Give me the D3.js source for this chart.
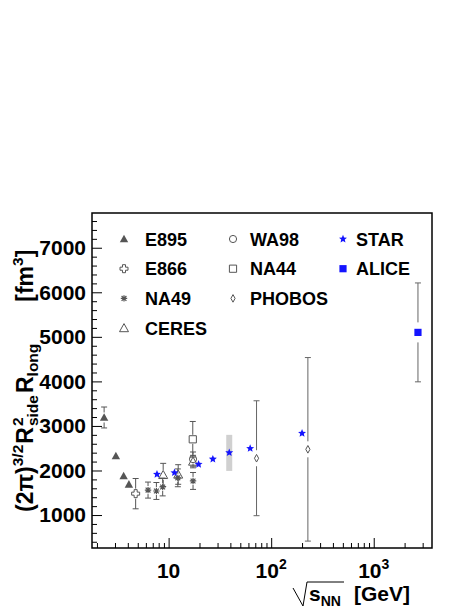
<!DOCTYPE html>
<html>
<head>
<meta charset="utf-8">
<script src="https://cdn.jsdelivr.net/npm/d3@7/dist/d3.min.js"></script>
<style>
  body { margin: 0; background: #fff; }
  text { font-family: 'Liberation Sans', Arial, Helvetica, sans-serif; font-weight: bold; fill: #000; }
</style>
</head>
<body>
<div id="chart"></div>
<script>
// values
var e895X = [2.35, 3.06, 3.64, 4.1]
var e895Y = [3190, 2325, 1880, 1690]
var e895Err = [235, 0, 0, 0]

var e866X = [4.77]
var e866Y = [1480]
var e866Err = [340]

var na49X = [6.3, 7.6, 8.75, 12.3, 17.3]
var na49Y = [1560, 1540, 1630, 1835, 1765]
var na49Err = [180, 190, 200, 200, 190]

var ceresX = [8.85, 12.4, 17.3]
var ceresY = [1900, 1910, 2200]
var ceresErr = [260, 220, 140]

var wa98X = [17.3]
var wa98Y = [2255]
var wa98Err = [160]

var na44X = [17.2]
var na44Y = [2700]
var na44Err = [400]

var phobosX = [72, 228]
var phobosY = [2275, 2475]
var phobosErr = [1290, 2060]

var starX = [7.7, 11.4, 19.6, 27, 39, 62.4, 200]
var starY = [1915, 1950, 2140, 2255, 2400, 2495, 2835]
var starSysX = [39]
var starSysLo = [1990]
var starSysHi = [2800]

var aliceX = [2700]
var aliceY = [5100]
var aliceErr = [1110]

var yTicks = [1000, 2000, 3000, 4000, 5000, 6000, 7000]
var xTicks = [10, 100, 1000]

var width = 471
var height = 609
var padLeft = 92, padRight = 432, padTop = 213, padBottom = 548
var gray = '#555'
var blue = '#1414ff'

var x = d3.scaleLog().domain([1.79, 3700]).range([padLeft, padRight])
var y = d3.scaleLinear().domain([260, 7780]).range([padBottom, padTop])

var svg = d3.select('#chart').append('svg')
  .attr('width', width)
  .attr('height', height)

// marker shapes (r ~ half size)
function markerPath (type, r) {
  var p = d3.path()
  if (type === 'triangle') {
    p.moveTo(0, -r); p.lineTo(r, r * 0.8); p.lineTo(-r, r * 0.8); p.closePath()
  } else if (type === 'cross') {
    var a = r * 0.38
    p.moveTo(-a, -r); p.lineTo(a, -r); p.lineTo(a, -a); p.lineTo(r, -a); p.lineTo(r, a)
    p.lineTo(a, a); p.lineTo(a, r); p.lineTo(-a, r); p.lineTo(-a, a); p.lineTo(-r, a)
    p.lineTo(-r, -a); p.lineTo(-a, -a); p.closePath()
  } else if (type === 'asterisk') {
    p.moveTo(-r, 0); p.lineTo(r, 0)
    p.moveTo(0, -r); p.lineTo(0, r)
    var d = r * 0.75
    p.moveTo(-d, -d); p.lineTo(d, d)
    p.moveTo(-d, d); p.lineTo(d, -d)
  } else if (type === 'square') {
    p.rect(-r, -r, 2 * r, 2 * r)
  } else if (type === 'circle') {
    p.arc(0, 0, r, 0, 2 * Math.PI)
  } else if (type === 'diamond') {
    p.moveTo(0, -r); p.lineTo(r * 0.55, 0); p.lineTo(0, r); p.lineTo(-r * 0.55, 0); p.closePath()
  } else if (type === 'star') {
    for (var i = 0; i < 10; i++) {
      var ang = -Math.PI / 2 + i * Math.PI / 5
      var rr = i % 2 === 0 ? r : r * 0.45
      if (i === 0) p.moveTo(rr * Math.cos(ang), rr * Math.sin(ang))
      else p.lineTo(rr * Math.cos(ang), rr * Math.sin(ang))
    }
    p.closePath()
  }
  return p.toString()
}

var styles = {
  triangle: { r: 4.2, fill: gray, stroke: 'none', sw: 0 },
  cross: { r: 4, fill: 'none', stroke: gray, sw: 1 },
  asterisk: { r: 3.2, fill: 'none', stroke: gray, sw: 1.2 },
  otriangle: { r: 4.5, fill: 'none', stroke: gray, sw: 1, shape: 'triangle' },
  circle: { r: 3.6, fill: 'none', stroke: gray, sw: 1 },
  square: { r: 3.6, fill: 'none', stroke: gray, sw: 1 },
  diamond: { r: 3.8, fill: 'none', stroke: gray, sw: 1 },
  star: { r: 4.2, fill: blue, stroke: 'none', sw: 0 },
  fsquare: { r: 3.6, fill: blue, stroke: 'none', sw: 0, shape: 'square' }
}

function drawMarker (g, type, cx, cy) {
  var s = styles[type]
  g.append('path')
    .attr('d', markerPath(s.shape || type, s.r))
    .attr('transform', 'translate(' + cx + ',' + cy + ')')
    .attr('fill', s.fill)
    .attr('stroke', s.stroke)
    .attr('stroke-width', s.sw)
}

var plot = svg.append('g').attr('class', 'plot')

// systematic band for STAR 39 GeV
plot.selectAll('rect.sys')
  .data(starSysX)
  .enter().append('rect')
  .attr('class', 'sys')
  .attr('x', function (d) { return x(d) - 3 })
  .attr('width', 6)
  .attr('y', function (d, i) { return y(starSysHi[i]) })
  .attr('height', function (d, i) { return y(starSysLo[i]) - y(starSysHi[i]) })
  .attr('fill', '#d0d0d0')

function drawSeries (xs, ys, errs, type, gap, color) {
  var g = plot.append('g')
  xs.forEach(function (xv, i) {
    var cx = x(xv), cy = y(ys[i])
    var e = errs ? errs[i] : 0
    if (e > 0) {
      var y1 = y(ys[i] + e), y2 = y(ys[i] - e)
      var c = color || gray
      if (cy - gap > y1) g.append('line').attr('x1', cx).attr('x2', cx).attr('y1', y1).attr('y2', cy - gap).attr('stroke', c)
      if (cy + gap < y2) g.append('line').attr('x1', cx).attr('x2', cx).attr('y1', cy + gap).attr('y2', y2).attr('stroke', c)
      g.append('line').attr('x1', cx - 3).attr('x2', cx + 3).attr('y1', y1).attr('y2', y1).attr('stroke', c)
      g.append('line').attr('x1', cx - 3).attr('x2', cx + 3).attr('y1', y2).attr('y2', y2).attr('stroke', c)
    }
    drawMarker(g, type, cx, cy)
  })
}

drawSeries(e895X, e895Y, e895Err, 'triangle', 5)
drawSeries(e866X, e866Y, e866Err, 'cross', 5)
drawSeries(na49X, na49Y, na49Err, 'asterisk', 4)
drawSeries(ceresX, ceresY, ceresErr, 'otriangle', 5)
drawSeries(wa98X, wa98Y, wa98Err, 'circle', 4.5)
drawSeries(na44X, na44Y, na44Err, 'square', 4.5)
drawSeries(phobosX, phobosY, phobosErr, 'diamond', 8, '#666')
drawSeries(starX, starY, null, 'star', 0)
drawSeries(aliceX, aliceY, aliceErr, 'fsquare', 10, '#666')

// frame
svg.append('rect')
  .attr('x', padLeft).attr('y', padTop)
  .attr('width', padRight - padLeft).attr('height', padBottom - padTop)
  .attr('fill', 'none').attr('stroke', '#000').attr('stroke-width', 1.5)

// y axis: ticks point inside
var yMinor = d3.range(400, 7800, 200).filter(function (v) { return v % 1000 !== 0 })
svg.append('g')
  .attr('transform', 'translate(' + padLeft + ',0)')
  .call(d3.axisLeft(y).tickValues(yMinor).tickSize(-5).tickFormat(''))
  .call(function (g) { g.select('.domain').remove() })
svg.append('g')
  .attr('class', 'y axis')
  .attr('transform', 'translate(' + padLeft + ',0)')
  .call(d3.axisLeft(y).tickValues(yTicks).tickSize(-10).tickPadding(6).tickFormat(d3.format('d')))
  .call(function (g) {
    g.select('.domain').remove()
    g.selectAll('text').style('font-size', '21px').attr('fill', '#000')
  })

// x axis: log ticks, inside
var xMinor = []
;[1, 10, 100, 1000].forEach(function (dec) {
  for (var k = 2; k <= 9; k++) {
    var v = k * dec
    if (v > 1.79 && v < 3700) xMinor.push(v)
  }
})
svg.append('g')
  .attr('transform', 'translate(0,' + padBottom + ')')
  .call(d3.axisBottom(x).tickValues(xMinor).tickSize(-5).tickFormat(''))
  .call(function (g) { g.select('.domain').remove() })
svg.append('g')
  .attr('class', 'x axis')
  .attr('transform', 'translate(0,' + padBottom + ')')
  .call(d3.axisBottom(x).tickValues(xTicks).tickSize(-10).tickFormat(''))
  .call(function (g) { g.select('.domain').remove() })

svg.selectAll('.tick line').attr('stroke', '#000')

var xLab = svg.append('g')
xTicks.forEach(function (v) {
  var t = xLab.append('text')
    .attr('x', x(v))
    .attr('y', 578)
    .attr('text-anchor', 'middle')
    .style('font-size', '21px')
  var exp = Math.round(Math.log10(v))
  t.append('tspan').text('10')
  if (exp > 1) {
    t.append('tspan').text(exp).attr('dy', -9).style('font-size', '14px')
  }
})

// x title with radical
var xt = svg.append('text')
  .attr('x', 309)
  .attr('y', 601)
  .style('font-size', '21px')
xt.append('tspan').text('s')
xt.append('tspan').text('NN').attr('dy', 5).style('font-size', '14px')
xt.append('tspan').text('[GeV]').attr('dy', -5).attr('dx', 13)
svg.append('path')
  .attr('d', 'M293,588 L303,606 L307,582 L344,582')
  .attr('fill', 'none').attr('stroke', '#000').attr('stroke-width', 1)

// y title
var yt = svg.append('text')
  .attr('transform', 'translate(33,512) rotate(-90)')
  .style('font-size', '23px')
yt.append('tspan').text('(2\u03c0)')
yt.append('tspan').text('3/2').attr('dy', -10).style('font-size', '15.5px')
yt.append('tspan').text('R').attr('dy', 10).attr('dx', 1)
yt.append('tspan').text('2').attr('dy', -10).attr('dx', 1).style('font-size', '15.5px')
yt.append('tspan').text('side').attr('dx', -8.6).attr('dy', 15).style('font-size', '15.5px')
yt.append('tspan').text('R').attr('dy', -5).attr('dx', 2)
yt.append('tspan').text('long').attr('dy', 5).style('font-size', '15.5px')
yt.append('tspan').text('[fm').attr('dy', -5).attr('dx', 42)
yt.append('tspan').text('3').attr('dy', -10).style('font-size', '15.5px')
yt.append('tspan').text(']').attr('dy', 10)

// legend
var legendCols = [
  { x: 124, tx: 145, items: [['triangle', 'E895'], ['cross', 'E866'], ['asterisk', 'NA49'], ['otriangle', 'CERES']] },
  { x: 233, tx: 250, items: [['circle', 'WA98'], ['square', 'NA44'], ['diamond', 'PHOBOS']] },
  { x: 343, tx: 356, items: [['star', 'STAR'], ['fsquare', 'ALICE']] }
]
var legend = svg.append('g').attr('class', 'legend')
legendCols.forEach(function (col) {
  col.items.forEach(function (it, i) {
    var ry = 239 + i * 29.7
    drawMarker(legend, it[0], col.x, ry)
    legend.append('text')
      .attr('x', col.tx)
      .attr('y', ry + 6.5)
      .style('font-size', '18px')
      .text(it[1])
  })
})
</script>
</body>
</html>
